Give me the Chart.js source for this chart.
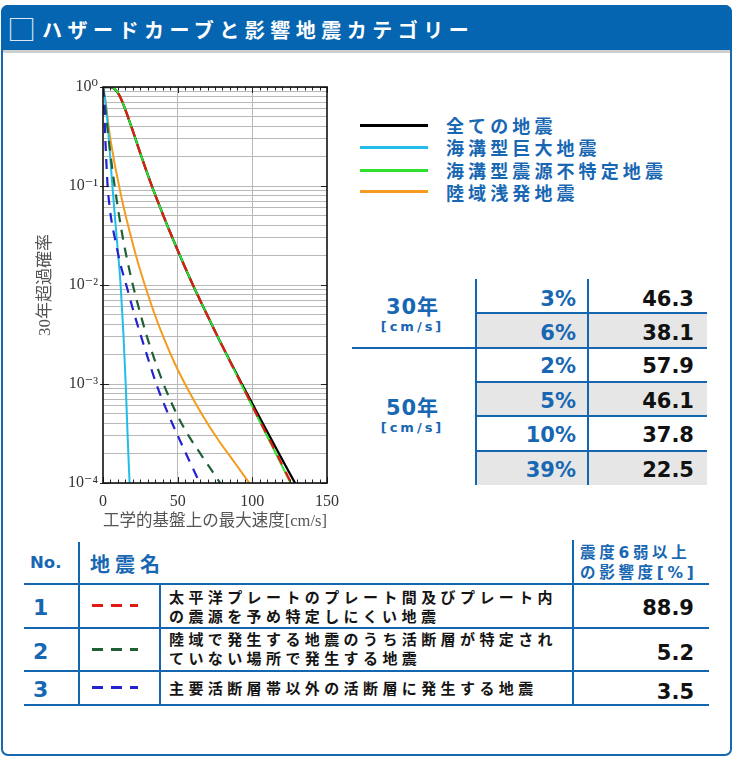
<!DOCTYPE html>
<html lang="ja">
<head>
<meta charset="utf-8">
<script src="https://cdn.jsdelivr.net/npm/chart.js@4.4.1/dist/chart.umd.min.js"></script>
<style>
html,body{margin:0;padding:0;background:#fff;}
body{width:740px;height:758px;position:relative;overflow:hidden;font-family:"DejaVu Sans","Noto Sans CJK JP",sans-serif;}
.abs{position:absolute;white-space:nowrap;}
.cjk{font-family:"Noto Sans CJK JP","Noto Sans",sans-serif;}
.ln{position:absolute;background:#1566b0;}
#panel{position:absolute;left:1px;top:5px;width:731px;height:751px;box-sizing:border-box;border:2px solid #1867b1;border-radius:7px;}
#hdr{position:absolute;left:1px;top:5px;width:731px;height:45px;background:#0565b0;border-radius:7px 7px 0 0;}
#hdrShadow{position:absolute;left:3px;top:50px;width:727px;height:3px;background:#cfcfcf;}
#chart{position:absolute;left:0;top:60px;}
</style>
</head>
<body>
<div id="panel"></div>
<div id="hdr"></div>
<div id="hdrShadow"></div>
<canvas id="chart" width="350" height="480"></canvas>
<script>
// ---------------- data ----------------
const titleText = 'ハザードカーブと影響地震カテゴリー';
const xTitle = '工学的基盤上の最大速度[cm/s]';
const yTitle = '30年超過確率';
const xTickValues = [0, 50, 100, 150];
const xTickLabels = ['0', '50', '100', '150'];
const yDecades = [1, 0.1, 0.01, 0.001, 0.0001];
const yTickLabels = ['10⁰', '10⁻¹', '10⁻²', '10⁻³', '10⁻⁴'];
const yMantissas = [1, 2, 3, 4, 5, 6, 7, 8, 9];

// 全ての地震
const allX = [0, 5, 7, 9, 11, 13.5, 17, 21, 25, 29, 32, 36, 45, 52, 60, 70, 80, 93, 105, 117, 128.6];
const allP = [1, 1, 0.973, 0.912, 0.822, 0.676, 0.484, 0.324, 0.214, 0.143, 0.107, 0.0741, 0.0339, 0.0191, 0.0102, 0.0049, 0.0024, 0.001, 0.000457, 0.000209, 0.0001];
// 海溝型巨大地震
const trenchGiantX = [0, 1, 2, 3, 4, 5, 6.2, 7.8, 9.5, 11.8, 13.7, 15.2, 16.3, 17.1, 17.8];
const trenchGiantP = [1, 0.832, 0.631, 0.437, 0.288, 0.182, 0.105, 0.0525, 0.0263, 0.01, 0.00316, 0.001, 0.000355, 0.000178, 0.0001];
// 海溝型震源不特定地震
const trenchUnspecX = [0, 5, 7, 9, 11, 13.5, 17, 21, 25, 29, 32, 36, 45, 52, 60, 70, 80, 92.5, 104, 115, 125.5];
const trenchUnspecP = [1, 1, 0.973, 0.912, 0.822, 0.676, 0.484, 0.324, 0.214, 0.143, 0.107, 0.0741, 0.0339, 0.0191, 0.0102, 0.0049, 0.0024, 0.001, 0.000447, 0.000209, 0.0001];
// 陸域浅発地震
const crustalX = [0, 1.5, 3, 4.5, 6, 8, 10.5, 13, 15.5, 18, 22, 28, 34, 40, 48, 56, 66, 77, 88, 98];
const crustalP = [1, 0.759, 0.501, 0.331, 0.24, 0.162, 0.105, 0.0692, 0.0479, 0.0339, 0.02, 0.01, 0.00537, 0.00309, 0.00162, 0.000933, 0.000501, 0.000275, 0.000162, 0.0001];
// No.1 太平洋プレート…
const cat1X = [0, 5, 7, 9, 11, 13.5, 17, 21, 25, 29, 32, 36, 45, 52, 60, 70, 80, 92.7, 104.3, 115.5, 126];
const cat1P = [1, 1, 0.973, 0.912, 0.822, 0.676, 0.484, 0.324, 0.214, 0.143, 0.107, 0.0741, 0.0339, 0.0191, 0.0102, 0.0049, 0.0024, 0.001, 0.000447, 0.000209, 0.0001];
// No.2 陸域で発生する…
const cat2X = [0, 1.5, 3.6, 5.5, 7.8, 10, 12.3, 15, 20, 25, 29, 34, 40, 48, 56, 65, 74, 78.5];
const cat2P = [1, 0.631, 0.316, 0.182, 0.1, 0.0596, 0.0363, 0.0219, 0.01, 0.00513, 0.00316, 0.00186, 0.00105, 0.00055, 0.000324, 0.0002, 0.000126, 0.0001];
// No.3 主要活断層帯以外…
const cat3X = [0, 0.5, 1, 1.5, 2.2, 3, 4.5, 6, 7.8, 11.5, 15.6, 20.5, 25.6, 30.5, 35.7, 43, 50, 57, 64.8];
const cat3P = [1, 0.759, 0.501, 0.316, 0.182, 0.105, 0.0603, 0.0417, 0.0305, 0.0166, 0.01, 0.00537, 0.00299, 0.00174, 0.001, 0.000525, 0.000302, 0.000178, 0.0001];

const legendNames = ['全ての地震', '海溝型巨大地震', '海溝型震源不特定地震', '陸域浅発地震'];

const periodLabels = ['30年', '50年'];
const periodUnit = '[cm/s]';
const exceedPct = ['3%', '6%', '2%', '5%', '10%', '39%'];
const velocity = ['46.3', '38.1', '57.9', '46.1', '37.8', '22.5'];

const catNo = ['1', '2', '3'];
const catNames = ['太平洋プレートのプレート間及びプレート内\nの震源を予め特定しにくい地震', '陸域で発生する地震のうち活断層が特定され\nていない場所で発生する地震', '主要活断層帯以外の活断層に発生する地震'];
const catImpact = ['88.9', '5.2', '3.5'];
const tableHead = ['No.', '地震名', '震度6弱以上\nの影響度[%]'];

// ---------------- styles ----------------
const BLUE = '#1867b3';
const C_ALL = '#000000', C_GIANT = '#22bde8', C_UNSPEC = '#2fe02f', C_CRUST = '#f59b1f';
const C_CAT1 = '#e01a10', C_CAT2 = '#1f6035', C_CAT3 = '#2222d0';

function pts(xs, ys) { return xs.map((x, i) => ({ x: x, y: ys[i] })); }

function txt(s, css, cls) {
  const d = document.createElement('div');
  d.className = 'abs' + (cls ? ' ' + cls : '');
  d.textContent = s;
  d.style.cssText += css;
  document.body.appendChild(d);
  return d;
}
function line(l, t, w, h, color) {
  const d = document.createElement('div');
  d.className = 'ln';
  d.style.cssText = `left:${l}px;top:${t}px;width:${w}px;height:${h}px;` + (color ? `background:${color};` : '');
  document.body.appendChild(d);
}

// ---------------- header ----------------
txt('□', 'left:7px;top:10px;font-size:29px;line-height:37px;color:#dbe7f3;', 'cjk');
txt(titleText, 'left:42px;top:17px;font-size:20px;line-height:26px;font-weight:bold;letter-spacing:5.5px;color:#fff;', 'cjk');

// ---------------- legend ----------------
const legendColors = [C_ALL, C_GIANT, C_UNSPEC, C_CRUST];
const legendY = [125, 147.3, 170, 191.7];
legendNames.forEach((n, i) => {
  line(360, legendY[i] - 1.5, 68, 3, legendColors[i]);
  txt(n, `left:446px;top:${legendY[i] - 12}px;font-size:18px;line-height:24px;font-weight:bold;letter-spacing:4.1px;color:${BLUE};`, 'cjk');
});

// ---------------- right table ----------------
const rowEdges = [279, 312.7, 347.7, 381.7, 415.7, 451, 485];
[1, 3, 5].forEach(r => {
  const d = document.createElement('div');
  d.className = 'abs';
  d.style.cssText = `left:477px;top:${rowEdges[r]}px;width:230px;height:${rowEdges[r + 1] - rowEdges[r]}px;background:#e6e6e6;`;
  document.body.appendChild(d);
});
line(475, 279, 2, 206);
line(587, 279, 2, 206);
[1, 3, 4, 5].forEach(r => line(476, rowEdges[r] - 1, 231, 2));
line(352, rowEdges[2] - 1, 355, 2);
const rowTextY = [298.5, 332.5, 366, 401, 434.5, 469.5];
exceedPct.forEach((p, i) => {
  txt(p, `right:${740 - 576}px;top:${rowTextY[i] - 13}px;font-weight:bold;font-size:21px;line-height:26px;color:${BLUE};`);
  txt(velocity[i], `right:${740 - 694}px;top:${rowTextY[i] - 13}px;font-weight:bold;font-size:21px;line-height:26px;color:#111;`);
});
const periodY = [306.5, 408];
periodLabels.forEach((p, i) => {
  txt(p, `left:352px;width:121px;text-align:center;top:${periodY[i] - 13}px;font-size:21px;line-height:26px;font-weight:bold;letter-spacing:1px;color:${BLUE};`);
  txt(periodUnit, `left:352px;width:121px;text-align:center;top:${periodY[i] + 11}px;font-size:13px;line-height:18px;font-weight:bold;letter-spacing:3px;color:${BLUE};`);
});

// ---------------- bottom table ----------------
line(24, 582.5, 685, 2);
line(24, 627.3, 685, 2);
line(24, 670, 685, 2);
line(24, 704, 685, 2);
line(78, 542, 2, 164);
line(159, 583, 2, 123);
line(572, 540, 2, 166);
txt(tableHead[0], `left:30px;top:551px;font-weight:bold;font-size:16.5px;line-height:24px;color:${BLUE};`);
txt(tableHead[1], `left:90px;top:551px;font-size:20px;line-height:26px;font-weight:bold;letter-spacing:5px;color:${BLUE};`, 'cjk');
txt(tableHead[2], `left:580px;top:542.5px;font-size:15.5px;line-height:20.3px;font-weight:bold;letter-spacing:3.7px;color:${BLUE};white-space:pre;`);
const catNumY = [608, 651.7, 690];
const catDashY = [605.7, 649, 687.3];
const catTextY = [597.3, 639.3, 688.3];
const catImpY = [608, 652.7, 691.7];
const catColors = [C_CAT1, C_CAT2, C_CAT3];
catNo.forEach((n, i) => {
  txt(n, `left:33px;top:${catNumY[i] - 14}px;font-weight:bold;font-size:22px;line-height:28px;color:${BLUE};`);
  const d = document.createElement('div');
  d.className = 'abs';
  d.style.cssText = `left:92px;top:${catDashY[i] - 1.5}px;width:46px;height:3px;background:repeating-linear-gradient(to right, ${catColors[i]} 0 11px, transparent 11px 19px);`;
  document.body.appendChild(d);
  txt(catNames[i], `left:169px;top:${catTextY[i] - 9.35}px;font-size:15px;line-height:18.7px;font-weight:bold;letter-spacing:4.4px;color:#151515;white-space:pre;`, 'cjk');
  txt(catImpact[i], `right:${740 - 694}px;top:${catImpY[i] - 14}px;font-weight:bold;font-size:21px;line-height:28px;color:#111;`);
});

// ---------------- chart ----------------
const yGridValues = [];
yDecades.slice(1).forEach(d => yMantissas.forEach(m => yGridValues.push(+(m * d).toPrecision(6))));
yGridValues.push(1);
const xMinorTicks = [];
for (let v = 0; v <= 150; v += 5) xMinorTicks.push(v);

const framePlugin = {
  id: 'frame',
  afterDraw(chart) {
    const { ctx, chartArea: a, scales } = chart;
    const x = scales.x, y = scales.y;
    ctx.save();
    ctx.strokeStyle = '#222';
    ctx.lineWidth = 1;
    ctx.beginPath();
    xMinorTicks.forEach(v => {
      const px = Math.round(x.getPixelForValue(v)) + 0.5;
      const len = (v % 50 === 0) ? 6 : 3.5;
      ctx.moveTo(px, a.bottom); ctx.lineTo(px, a.bottom - len);
      ctx.moveTo(px, a.top); ctx.lineTo(px, a.top + len);
    });
    yDecades.forEach(v => {
      const py = Math.round(y.getPixelForValue(v)) + 0.5;
      ctx.moveTo(a.left - 3, py); ctx.lineTo(a.left + 6, py);
      ctx.moveTo(a.right, py); ctx.lineTo(a.right - 6, py);
    });
    ctx.stroke();
    ctx.lineWidth = 1.6;
    ctx.strokeStyle = '#111';
    ctx.strokeRect(a.left, a.top, a.right - a.left, a.bottom - a.top);
    ctx.restore();
  }
};

const serif = "'Liberation Serif','DejaVu Serif','Noto Sans CJK JP',serif";
new Chart(document.getElementById('chart'), {
  type: 'line',
  data: {
    datasets: [
      { label: catNames[0], data: pts(cat1X, cat1P), borderColor: C_CAT1, borderWidth: 2.2, borderDash: [10, 8] },
      { label: catNames[2], data: pts(cat3X, cat3P), borderColor: C_CAT3, borderWidth: 2.2, borderDash: [10, 8] },
      { label: catNames[1], data: pts(cat2X, cat2P), borderColor: C_CAT2, borderWidth: 2.2, borderDash: [10, 8] },
      { label: legendNames[2], data: pts(trenchUnspecX, trenchUnspecP), borderColor: C_UNSPEC, borderWidth: 2 },
      { label: legendNames[0], data: pts(allX, allP), borderColor: C_ALL, borderWidth: 2.3 },
      { label: legendNames[1], data: pts(trenchGiantX, trenchGiantP), borderColor: C_GIANT, borderWidth: 2 },
      { label: legendNames[3], data: pts(crustalX, crustalP), borderColor: C_CRUST, borderWidth: 2 }
    ]
  },
  options: {
    responsive: false,
    animation: false,
    layout: { padding: { left: 0, right: 23, top: 27, bottom: 0 } },
    elements: { point: { radius: 0 }, line: { cubicInterpolationMode: 'monotone', fill: false } },
    plugins: { legend: { display: false }, tooltip: { enabled: false } },
    scales: {
      x: {
        type: 'linear', min: 0, max: 150,
        afterBuildTicks: s => { s.ticks = xTickValues.map(v => ({ value: v })); },
        afterFit: s => { s.height = 57; },
        ticks: { autoSkip: false, maxRotation: 0, padding: 9, color: '#333', font: { family: serif, size: 16 },
          callback: v => { const i = xTickValues.indexOf(v); return i >= 0 ? xTickLabels[i] : ''; } },
        grid: { drawTicks: false, lineWidth: 1, color: c => (c.tick && c.tick.value > 0 && c.tick.value < 150) ? '#b8b8b8' : 'rgba(0,0,0,0)' },
        border: { display: false },
        title: { display: true, text: xTitle, color: '#555', font: { family: serif, size: 17 }, padding: { top: 0, bottom: 8 } }
      },
      y: {
        type: 'logarithmic', min: 0.0001, max: 1,
        afterBuildTicks: s => { s.ticks = yGridValues.map(v => ({ value: v })); },
        afterFit: s => { s.width = 103; },
        ticks: { autoSkip: false, padding: 5, color: '#333', font: { family: serif, size: 16 },
          callback: v => { const i = yDecades.findIndex(d => Math.abs(d - v) < d * 1e-6); return i >= 0 ? yTickLabels[i] : ''; } },
        grid: { drawTicks: false, lineWidth: 1, color: '#b8b8b8' },
        border: { display: false },
        title: { display: true, text: yTitle, color: '#555', font: { family: serif, size: 17 }, padding: { top: 35, bottom: 0 } }
      }
    }
  },
  plugins: [framePlugin]
});
</script>
</body>
</html>
